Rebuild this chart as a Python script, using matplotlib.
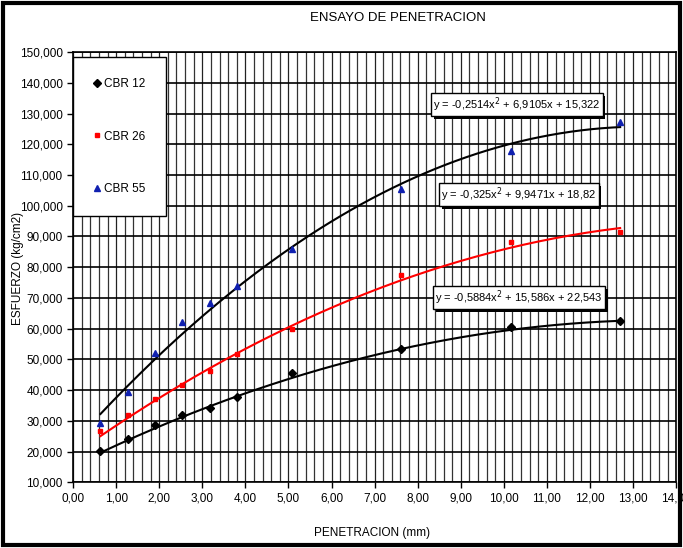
import numpy as np
import matplotlib
matplotlib.use('Agg')
import matplotlib.pyplot as plt
import matplotlib.patheffects as pe
from matplotlib.ticker import FuncFormatter, MultipleLocator
from matplotlib.patches import Rectangle

plt.rcParams['font.family'] = ['Liberation Sans Narrow', 'Liberation Sans', 'DejaVu Sans']

# penetracion (mm)
pen = [0.635, 1.27, 1.905, 2.54, 3.175, 3.81, 5.08, 7.62, 10.16, 12.7]

# esfuerzo (kg/cm2)
cbr12 = [20.2, 24.2, 28.7, 31.8, 34.0, 37.7, 45.6, 53.3, 60.6, 62.5]
cbr26 = [26.8, 31.8, 37.0, 41.7, 46.3, 51.8, 60.0, 77.4, 88.1, 91.5]
cbr55 = [29.4, 39.5, 52.0, 62.0, 68.4, 73.8, 86.0, 105.5, 117.8, 127.2]

# trendline coefficients (a, b, c) for y = a x^2 + b x + c
coef12 = [-0.2514, 6.9105, 15.322]
coef26 = [-0.325, 9.9471, 18.82]
coef55 = [-0.5884, 15.586, 22.543]

eq_labels = ['y = -0,2514x$^2$ + 6,9105x + 15,322',
             'y = -0,325x$^2$ + 9,9471x + 18,82',
             'y = -0,5884x$^2$ + 15,586x + 22,543']
eq_pos = [(10.3, 132.8), (10.35, 103.5), (10.35, 70.2)]

fig = plt.figure(figsize=(6.83, 5.48), dpi=100)
ax = fig.add_axes([0.107, 0.12, 0.883, 0.785])

# grid
ax.xaxis.set_major_locator(MultipleLocator(1))
ax.xaxis.set_minor_locator(MultipleLocator(0.2))
ax.yaxis.set_major_locator(MultipleLocator(10))
ax.grid(which='minor', axis='x', color='#333333', linewidth=0.9)
ax.grid(which='major', axis='x', color='#222222', linewidth=0.9)
ax.grid(which='major', axis='y', color='black', linewidth=1.2)
ax.set_axisbelow(True)

xs = np.linspace(min(pen), max(pen), 200)
ax.plot(xs, np.polyval(coef12, xs), color='black', lw=1.5, zorder=3)
ax.plot(xs, np.polyval(coef26, xs), color='red', lw=1.5, zorder=3)
ax.plot(xs, np.polyval(coef55, xs), color='black', lw=1.5, zorder=3)

ax.plot(pen, cbr12, 'D', color='black', ms=4, ls='none', label='CBR 12', zorder=4)
ax.plot(pen, cbr26, 's', color='red', ms=3.5, ls='none', label='CBR 26', zorder=4)
ax.plot(pen, cbr55, '^', color='#1020b0', ms=4, ls='none', label='CBR 55', zorder=4)

for lab, (px, py) in zip(eq_labels, eq_pos):
    t = ax.text(px, py, lab, ha='center', va='center', fontsize=8, zorder=6,
                bbox=dict(boxstyle='square,pad=0.2', fc='white', ec='black', lw=1))
    t.get_bbox_patch().set_path_effects([
        pe.SimplePatchShadow(offset=(2, -2), shadow_rgbFace='black', alpha=1),
        pe.Normal()])

ax.set_xlim(0, 14)
ax.set_ylim(10, 150)
ax.xaxis.set_major_formatter(FuncFormatter(lambda v, p: ('%.2f' % v).replace('.', ',')))
ax.yaxis.set_major_formatter(FuncFormatter(lambda v, p: ('%.3f' % v).replace('.', ',')))
ax.tick_params(axis='both', which='major', labelsize=8.5, length=4, width=1)
ax.tick_params(axis='x', which='minor', length=0)
for s in ax.spines.values():
    s.set_linewidth(1.2)

leg = ax.legend(loc='upper left', bbox_to_anchor=(0.0, 0.988), fontsize=8.5,
                labelspacing=3.4, handlelength=0.5, handletextpad=0.3,
                borderpad=1.8, borderaxespad=0, fancybox=False, frameon=True,
                framealpha=1, edgecolor='black')
leg.get_frame().set_linewidth(1.0)
leg.set_zorder(7)

fig.text(0.582, 0.967, 'ENSAYO DE PENETRACION', ha='center', va='center', fontsize=9.5)
fig.text(0.545, 0.028, 'PENETRACION (mm)', ha='center', va='center', fontsize=8.5)
fig.text(0.027, 0.51, 'ESFUERZO (kg/cm2)', ha='center', va='center', rotation=90,
         fontsize=8.5, family=['Liberation Sans', 'DejaVu Sans'])

fig.patches.append(Rectangle((0.004, 0.005), 0.992, 0.99, transform=fig.transFigure,
                             fill=False, ec='black', lw=3))

fig.savefig('out.png', dpi=100)
